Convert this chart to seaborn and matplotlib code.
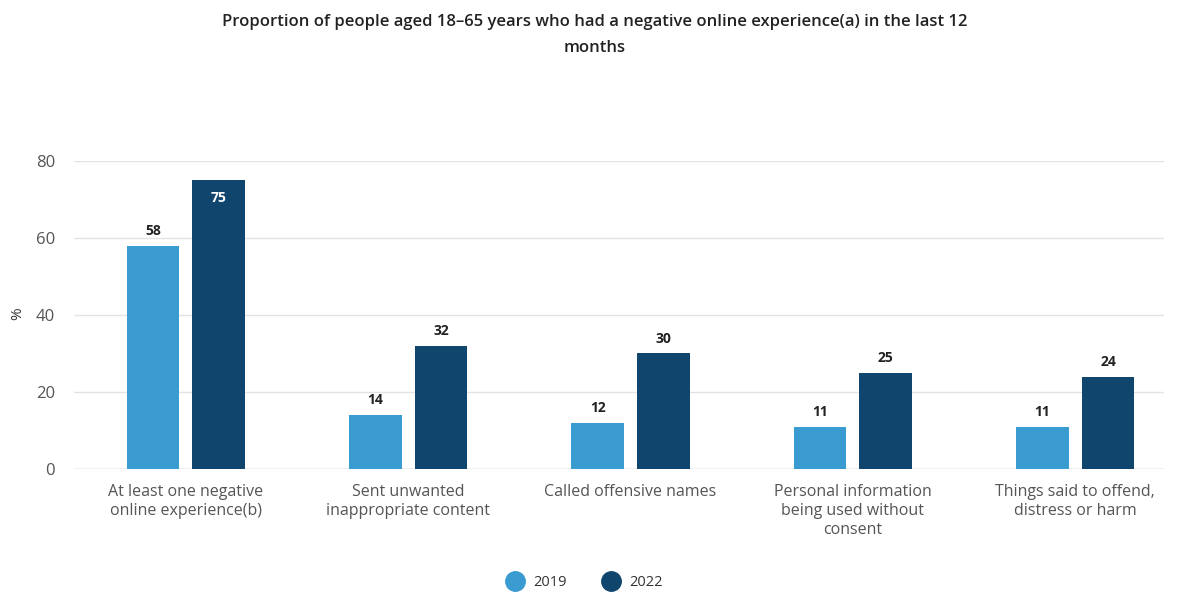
import numpy as np
import pandas as pd
import matplotlib
matplotlib.use("Agg")
import matplotlib.pyplot as plt
import seaborn as sns
from matplotlib.lines import Line2D

# Dados
categorias = [
    "At least one negative\nonline experience(b)",
    "Sent unwanted\ninappropriate content",
    "Called offensive names",
    "Personal information\nbeing used without\nconsent",
    "Things said to offend,\ndistress or harm",
]
anos = ["2019", "2022"]
valores_2019 = [58, 14, 12, 11, 11]
valores_2022 = [75, 32, 30, 25, 24]
cores = ["#3A9BD1", "#10466E"]

df = pd.DataFrame({
    "categoria": categorias * 2,
    "ano": [anos[0]] * 5 + [anos[1]] * 5,
    "valor": valores_2019 + valores_2022,
})

sns.set_theme(style="white")
plt.rcParams["font.family"] = ["Open Sans", "DejaVu Sans"]

fig = plt.figure(figsize=(11.82, 5.92), dpi=100)
ax = fig.add_axes([0.063, 0.208, 0.922, 0.52])

sns.barplot(data=df, x="categoria", y="valor", hue="ano", palette=cores,
            width=0.59, gap=0.2, order=categorias, hue_order=anos,
            saturation=1, linewidth=0, legend=False, ax=ax, zorder=3)

# Rótulos
for container, ano in zip(ax.containers, anos):
    for barra in container:
        h = barra.get_height()
        x = barra.get_x() + barra.get_width() / 2
        if h >= 70:
            ax.text(x, h - 2.7, f"{h:.0f}", ha="center", va="top", color="white",
                    fontsize=10, fontweight="bold")
        else:
            ax.text(x, h + 2.0, f"{h:.0f}", ha="center", va="bottom", color="#222222",
                    fontsize=10, fontweight="bold")

ax.set_ylim(0, 80)
ax.set_xlim(-0.5, 4.4)
ax.set_yticks([0, 20, 40, 60, 80])
ax.yaxis.grid(True, color="#E3E3E3", linewidth=1, zorder=0)
for s in ax.spines.values():
    s.set_visible(False)
ax.axhline(0, color="#CCCCCC", linewidth=1, zorder=1)
ax.tick_params(axis="y", labelsize=12, labelcolor="#555555", length=0, pad=14)
ax.tick_params(axis="x", labelsize=11.5, labelcolor="#555555", length=0, pad=11)
for lab in ax.get_xticklabels():
    lab.set_linespacing(1.25)
ax.set_xlabel("")
ax.set_ylabel("")
fig.text(0.015, 0.47, "%", rotation=90, ha="center", va="center", fontsize=11, color="#333333")

fig.suptitle("Proportion of people aged 18–65 years who had a negative online experience(a) in the last 12\nmonths",
             x=0.503, y=0.976, fontsize=12, fontweight="semibold", color="#222222", linespacing=1.85)

handles = [Line2D([0], [0], marker="o", linestyle="", markersize=14, markerfacecolor=c,
                  markeredgecolor=c) for c in cores]
fig.legend(handles, anos, loc="center", bbox_to_anchor=(0.492, 0.016), ncol=2, frameon=False,
           fontsize=10.5, handletextpad=0.3, columnspacing=2.0, labelcolor="#333333")

plt.savefig("out.png", dpi=100)
